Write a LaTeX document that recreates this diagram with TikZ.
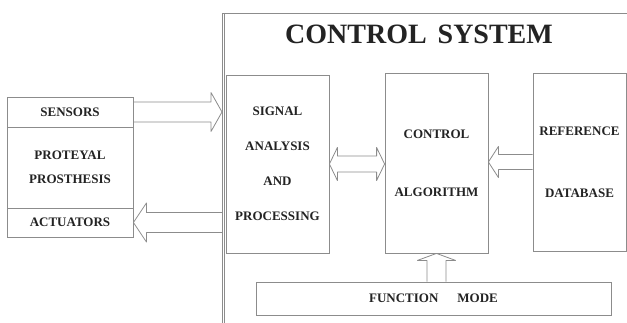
\documentclass[tikz,border=0pt]{standalone}
\usepackage{fontspec}
\setmainfont{Liberation Serif}
\usetikzlibrary{calc}

\definecolor{linegray}{RGB}{140,140,140}
\definecolor{inkgray}{RGB}{35,35,35}
\newcommand{\lbl}{\fontsize{13}{35}\selectfont\bfseries}

\tikzset{
  box/.style={draw=linegray, line width=0.8pt, align=center, inner sep=0pt, text=inkgray, font=\lbl},
  fat/.style={draw=linegray, line width=0.8pt, line join=round}
}

\begin{document}
\begin{tikzpicture}[x=1pt,y=-1pt]
            \useasboundingbox[fill=white] (0,0) rectangle (627,322);
            % control system frame (runs off the page)
            \coordinate (sysNW) at (222,13);
            \draw[linegray, line width=0.8pt] (sysNW) -- (640,13);
            \draw[linegray, line width=0.8pt] (sysNW) -- (222,330);
            \draw[linegray, line width=0.8pt] ([xshift=2.4pt]sysNW) -- (224.4,330);
            \node[text=inkgray, font=\fontsize{28}{30}\selectfont\bfseries] (title) at (419,34) {CONTROL\hspace{4pt} SYSTEM};
            % prosthesis
            \node[box, minimum width=126, minimum height=30] (sensors) at (70,112) {SENSORS};
            \node[box, minimum width=126, minimum height=81, font=\fontsize{13}{24}\selectfont\bfseries] (proth) at (70,167.5) {PROTEYAL\\PROSTHESIS};
            \node[box, minimum width=126, minimum height=29] (actuators) at (70,222.5) {ACTUATORS};
            % blocks of the control system
            \node[box, minimum width=103, minimum height=178] (signal) at (277.5,164) {SIGNAL\\ANALYSIS\\AND\\PROCESSING};
            \node[box, minimum width=103, minimum height=180, font=\fontsize{13}{58}\selectfont\bfseries] (control) at (436.5,163) {CONTROL\\ALGORITHM};
            \node[box, minimum width=93, minimum height=178, font=\fontsize{13}{62}\selectfont\bfseries] (refdb) at (579.5,162) {REFERENCE\\DATABASE};
            \node[box, minimum width=355, minimum height=33] (fmode) at (433.5,298.5) {FUNCTION\hspace{19pt}MODE};
            % block arrows
            \draw[fat] let \p1=(sensors.east), \p2=(sysNW |- sensors.east) in
                (\x1,\y1+10pt) -- (\x2-11pt,\y1+10pt) -- (\x2-11pt,\y1+19.5pt) -- (\x2,\y1)
                -- (\x2-11pt,\y1-19.5pt) -- (\x2-11pt,\y1-10pt) -- (\x1,\y1-10pt);
            \draw[fat] let \p1=(sysNW |- actuators.east), \p2=(actuators.east) in
                (\x1,\y1+10pt) -- (\x2+13pt,\y1+10pt) -- (\x2+13pt,\y1+19.5pt) -- (\x2,\y1)
                -- (\x2+13pt,\y1-19.5pt) -- (\x2+13pt,\y1-10pt) -- (\x1,\y1-10pt);
            \draw[fat] let \p1=(signal.east), \p2=(control.west) in
                (\x1+8pt,\y1+8pt) -- (\x2-8pt,\y1+8pt) -- (\x2-8pt,\y1+16.5pt) -- (\x2,\y1)
                -- (\x2-8pt,\y1-16.5pt) -- (\x2-8pt,\y1-8pt) -- (\x1+8pt,\y1-8pt)
                -- (\x1+8pt,\y1-16.5pt) -- (\x1,\y1) -- (\x1+8pt,\y1+16.5pt) -- cycle;
            \draw[fat] let \p1=(refdb.west), \p2=(control.east) in
                (\x1,\y1+7.5pt) -- (\x2+10pt,\y1+7.5pt) -- (\x2+10pt,\y1+15.5pt) -- (\x2,\y1)
                -- (\x2+10pt,\y1-15.5pt) -- (\x2+10pt,\y1-7.5pt) -- (\x1,\y1-7.5pt);
            \draw[fat] let \p1=(control.south |- fmode.north), \p2=(control.south) in
                (\x1-9.5pt,\y1) -- (\x1-9.5pt,\y2-7pt) -- (\x1-19pt,\y2-7pt) -- (\x2,\y2)
                -- (\x1+19pt,\y2-7pt) -- (\x1+9.5pt,\y2-7pt) -- (\x1+9.5pt,\y1);
\end{tikzpicture}
\end{document}
